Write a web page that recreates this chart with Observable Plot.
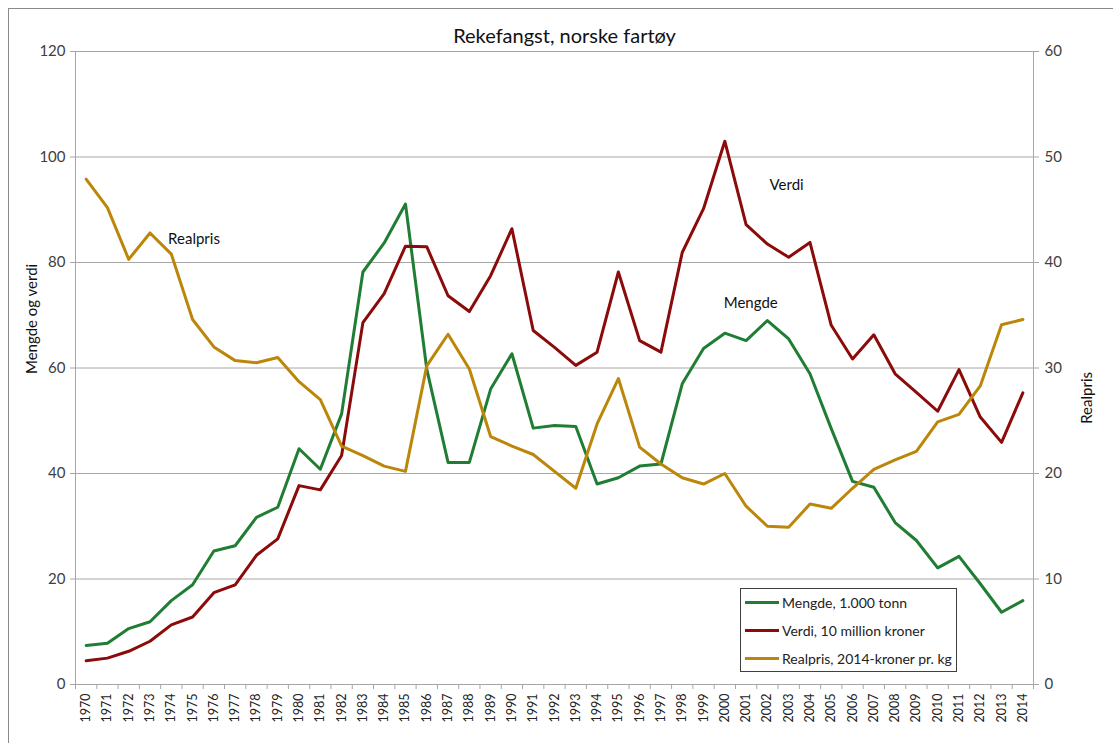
<!DOCTYPE html>
<html>
<head>
<meta charset="utf-8">
<script src="https://cdn.jsdelivr.net/npm/d3@7"></script>
<script src="https://cdn.jsdelivr.net/npm/@observablehq/plot@0.6"></script>
<style>
html, body { margin: 0; padding: 0; background: #fff; overflow: hidden; }
#wrap { position: relative; width: 1113px; height: 743px; font-family: Lato, "Open Sans", sans-serif; color: #333; }
#frame { position: absolute; left: 8px; top: 8px; width: 1130px; height: 760px; border: 1px solid #8a8a8a; box-sizing: border-box; pointer-events: none; }
#legend { position: absolute; left: 740px; top: 588px; width: 217px; height: 84px; border: 1px solid #404040; box-sizing: border-box; background: #fff; font-size: 14px; color: #222; }
#legend .row { position: absolute; left: 4px; height: 16px; display: flex; align-items: center; white-space: nowrap; }
#legend .sw { display: inline-block; width: 34px; height: 3px; margin-right: 3px; }
</style>
</head>
<body>
<div id="wrap">
  <div id="chart"></div>
  <div id="legend"></div>
  <div id="frame"></div>
</div>
<script>
const title = "Rekefangst, norske fartøy";
const years = d3.range(1970, 2015);
// Mengde, 1.000 tonn (left axis)
const mengde = [7.4, 7.8, 10.6, 11.9, 15.9, 18.9, 25.3, 26.3, 31.7, 33.6,
  44.7, 40.8, 51.3, 78.2, 83.7, 91.1, 59.8, 42.1, 42.1, 56.0,
  62.7, 48.6, 49.1, 48.9, 38.0, 39.2, 41.4, 41.8, 57.0, 63.7,
  66.6, 65.2, 69.0, 65.5, 58.9, 48.5, 38.5, 37.4, 30.7, 27.3,
  22.1, 24.3, 19.1, 13.7, 15.9];
// Verdi, 10 million kroner (left axis)
const verdi = [4.5, 5.0, 6.3, 8.2, 11.3, 12.8, 17.4, 18.9, 24.5, 27.6,
  37.7, 36.9, 43.4, 68.6, 74.1, 83.1, 83.0, 73.7, 70.7, 77.5,
  86.4, 67.1, 63.9, 60.5, 63.0, 78.2, 65.2, 63.0, 81.9, 90.2,
  103.0, 87.2, 83.5, 81.0, 83.8, 68.1, 61.7, 66.3, 58.9, 55.4,
  51.8, 59.7, 50.7, 45.9, 55.3];
// Realpris, 2014-kroner pr. kg (right axis)
const realpris = [47.9, 45.2, 40.3, 42.8, 40.8, 34.6, 32.0, 30.7, 30.5, 31.0,
  28.7, 27.0, 22.6, 21.7, 20.7, 20.2, 30.2, 33.2, 29.9, 23.5,
  22.6, 21.8, 20.2, 18.6, 24.7, 29.0, 22.5, 20.9, 19.6, 19.0,
  20.0, 16.9, 15.0, 14.9, 17.1, 16.7, 18.6, 20.4, 21.3, 22.1,
  24.9, 25.6, 28.3, 34.1, 34.6];
const leftTicks = [0, 20, 40, 60, 80, 100, 120];
const rightTicks = [0, 10, 20, 30, 40, 50, 60];
const seriesNames = ["Mengde, 1.000 tonn", "Verdi, 10 million kroner", "Realpris, 2014-kroner pr. kg"];
const seriesColors = ["#1f7d34", "#8b0a0a", "#bb860a"];
const annotations = [
  {text: "Realpris", year: 1973.85, value: 84.5},
  {text: "Verdi", year: 2002.1, value: 94.6},
  {text: "Mengde", year: 1999.95, value: 72.2}
];
const yLeftLabel = "Mengde og verdi";
const yRightLabel = "Realpris";

const rows = years.map((y, i) => ({year: y, mengde: mengde[i], verdi: verdi[i], realpris: realpris[i]}));
const ratio = leftTicks[leftTicks.length - 1] / rightTicks[rightTicks.length - 1];
const bounds = d3.range(years[0] - 0.5, years[years.length - 1] + 1, 1);
const grid = "#a6a6a6";
const txt = "#404040";

const chart = Plot.plot({
  width: 1113,
  height: 743,
  marginLeft: 75,
  marginRight: 80,
  marginTop: 51,
  marginBottom: 59,
  style: {fontFamily: "Lato, 'Open Sans', sans-serif", background: "#fff", overflow: "visible"},
  x: {type: "linear", domain: [bounds[0], bounds[bounds.length - 1]]},
  y: {domain: [leftTicks[0], leftTicks[leftTicks.length - 1]]},
  marks: [
    Plot.gridY(leftTicks, {stroke: grid, strokeOpacity: 1, strokeWidth: 1}),
    Plot.ruleX([bounds[0], bounds[bounds.length - 1]], {stroke: grid, strokeWidth: 1}),
    Plot.axisY(leftTicks, {anchor: "left", tickSize: 5, tickPadding: 5, label: null, fontSize: 15, stroke: grid, fill: txt}),
    Plot.axisY(leftTicks, {anchor: "right", tickSize: 5, tickPadding: 6, label: null, fontSize: 15, stroke: grid, fill: txt, tickFormat: d => d / ratio}),
    Plot.axisX(bounds, {anchor: "bottom", tickSize: 5, tickFormat: () => "", label: null, stroke: grid}),
    Plot.axisX(years, {anchor: "bottom", tickSize: 0, tickPadding: 9, tickRotate: -90, label: null, fontSize: 12.5, fill: "#222", tickFormat: d => String(d)}),
    Plot.line(rows, {x: "year", y: "mengde", stroke: seriesColors[0], strokeWidth: 3, strokeLinejoin: "round"}),
    Plot.line(rows, {x: "year", y: "verdi", stroke: seriesColors[1], strokeWidth: 3, strokeLinejoin: "round"}),
    Plot.line(rows, {x: "year", y: d => d.realpris * ratio, stroke: seriesColors[2], strokeWidth: 3, strokeLinejoin: "round"}),
    Plot.text(annotations, {x: "year", y: "value", text: "text", textAnchor: "start", fontSize: 15, fill: "#111"}),
    Plot.text([title], {frameAnchor: "top", dy: -23, dx: 10, fontSize: 20, fill: "#111"}),
    Plot.text([yLeftLabel], {frameAnchor: "left", dx: -43, dy: 6, rotate: -90, fontSize: 15, fill: "#111"}),
    Plot.text([yRightLabel], {frameAnchor: "right", dx: 54, dy: 4, rotate: -90, fontSize: 15, fill: "#111"})
  ]
});
document.getElementById("chart").appendChild(chart);

const legend = document.getElementById("legend");
const rowTops = [5, 33, 61];
seriesNames.forEach((name, i) => {
  const r = document.createElement("div");
  r.className = "row";
  r.style.top = rowTops[i] + "px";
  const sw = document.createElement("span");
  sw.className = "sw";
  sw.style.background = seriesColors[i];
  const t = document.createElement("span");
  t.textContent = name;
  r.appendChild(sw);
  r.appendChild(t);
  legend.appendChild(r);
});
</script>
</body>
</html>
